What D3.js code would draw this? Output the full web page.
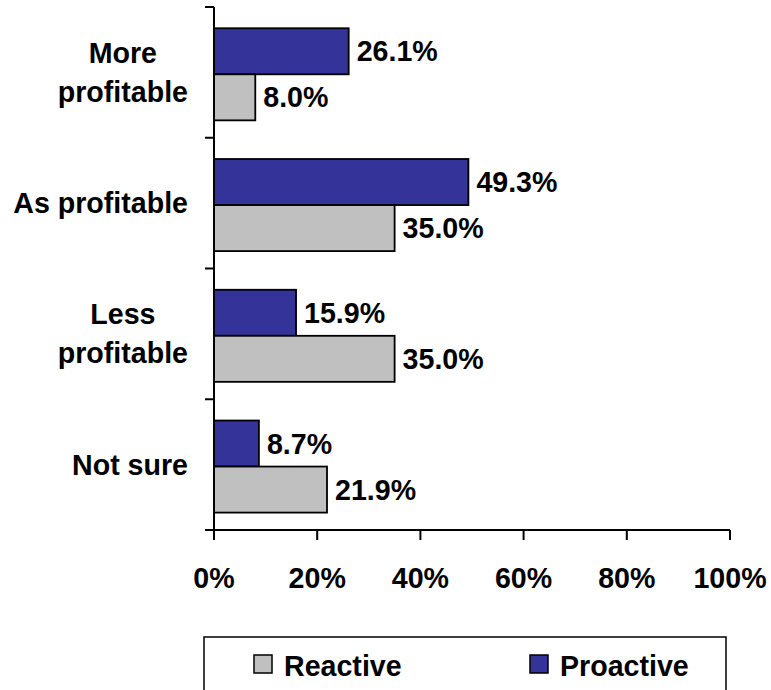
<!DOCTYPE html>
<html>
<head>
<meta charset="utf-8">
<script src="https://cdn.jsdelivr.net/npm/d3@7"></script>
<style>
  html, body { margin: 0; padding: 0; background: #fff; }
  svg { display: block; }
  text { font-family: "Liberation Sans", Arial, sans-serif; font-weight: bold; fill: #000; }
</style>
</head>
<body>
<svg id="chart" width="771" height="690"></svg>
<script>
const categories = [["More", "profitable"], ["As profitable"], ["Less", "profitable"], ["Not sure"]];
const categoryKeys = ["More profitable", "As profitable", "Less profitable", "Not sure"];
const seriesNames = ["Proactive", "Reactive"];
const proactive = [26.1, 49.3, 15.9, 8.7];
const reactive = [8.0, 35.0, 35.0, 21.9];
const xTicks = [0, 20, 40, 60, 80, 100];
const colors = { Proactive: "#333399", Reactive: "#C0C0C0" };

const svg = d3.select("#chart");
const x = d3.scaleLinear().domain([0, 100]).range([214, 730]);
const y = d3.scaleBand().domain(categoryKeys).range([7, 530]).padding(0);
const inner = d3.scaleBand().domain(seriesNames).range([0, y.bandwidth()])
  .paddingInner(0).paddingOuter(0.42).align(0.55);

const values = { Proactive: proactive, Reactive: reactive };
const FS = 28.6;

// bars
seriesNames.forEach(s => {
  svg.append("g").selectAll("rect")
    .data(categoryKeys.map((c, i) => ({ c, v: values[s][i] })))
    .join("rect")
    .attr("x", x(0))
    .attr("y", d => y(d.c) + inner(s))
    .attr("width", d => x(d.v) - x(0))
    .attr("height", inner.bandwidth())
    .attr("fill", colors[s])
    .attr("stroke", "#000")
    .attr("stroke-width", 1.8);
  svg.append("g").selectAll("text")
    .data(categoryKeys.map((c, i) => ({ c, v: values[s][i] })))
    .join("text")
    .attr("x", d => x(d.v) + 8)
    .attr("y", d => y(d.c) + inner(s) + inner.bandwidth() / 2 + 10)
    .attr("font-size", FS)
    .text(d => d.v.toFixed(1) + "%");
});

// y axis
const yAxis = svg.append("g");
yAxis.append("line").attr("x1", x(0)).attr("x2", x(0)).attr("y1", 7).attr("y2", 530)
  .attr("stroke", "#000").attr("stroke-width", 2);
const boundaries = categoryKeys.map(c => y(c)).concat([y.range()[1]]);
yAxis.selectAll("line.tick").data(boundaries).join("line").attr("class", "tick")
  .attr("x1", x(0) - 9).attr("x2", x(0)).attr("y1", d => d).attr("y2", d => d)
  .attr("stroke", "#000").attr("stroke-width", 2);

// category labels
categoryKeys.forEach((c, i) => {
  const lines = categories[i];
  const lh = 39;
  const cy = y(c) + y.bandwidth() / 2;
  const g = svg.append("g");
  const texts = lines.map((ln, j) => g.append("text")
    .attr("font-size", FS)
    .attr("text-anchor", "middle")
    .attr("y", cy + 10 + (j - (lines.length - 1) / 2) * lh)
    .text(ln));
  const maxW = d3.max(texts, t => t.node().getComputedTextLength());
  texts.forEach(t => t.attr("x", 188 - maxW / 2));
});

// x axis
const xAxis = svg.append("g");
xAxis.append("line").attr("x1", x(0) - 9).attr("x2", x(100)).attr("y1", 530).attr("y2", 530)
  .attr("stroke", "#000").attr("stroke-width", 2);
xAxis.selectAll("line.tick").data(xTicks).join("line").attr("class", "tick")
  .attr("x1", d => x(d)).attr("x2", d => x(d)).attr("y1", 530).attr("y2", 540)
  .attr("stroke", "#000").attr("stroke-width", 2);
xAxis.selectAll("text").data(xTicks).join("text")
  .attr("x", d => x(d)).attr("y", 588).attr("text-anchor", "middle")
  .attr("font-size", FS).text(d => d + "%");

// legend
const legend = svg.append("g");
legend.append("rect").attr("x", 204).attr("y", 637).attr("width", 522).attr("height", 80)
  .attr("fill", "#fff").attr("stroke", "#000").attr("stroke-width", 1.5);
const legendItems = [{ name: "Reactive", x: 254 }, { name: "Proactive", x: 530 }];
legendItems.forEach(it => {
  legend.append("rect").attr("x", it.x).attr("y", 655).attr("width", 18).attr("height", 18)
    .attr("fill", colors[it.name]).attr("stroke", "#000").attr("stroke-width", 1.5);
  legend.append("text").attr("x", it.x + 30).attr("y", 676).attr("font-size", FS).text(it.name);
});
</script>
</body>
</html>
